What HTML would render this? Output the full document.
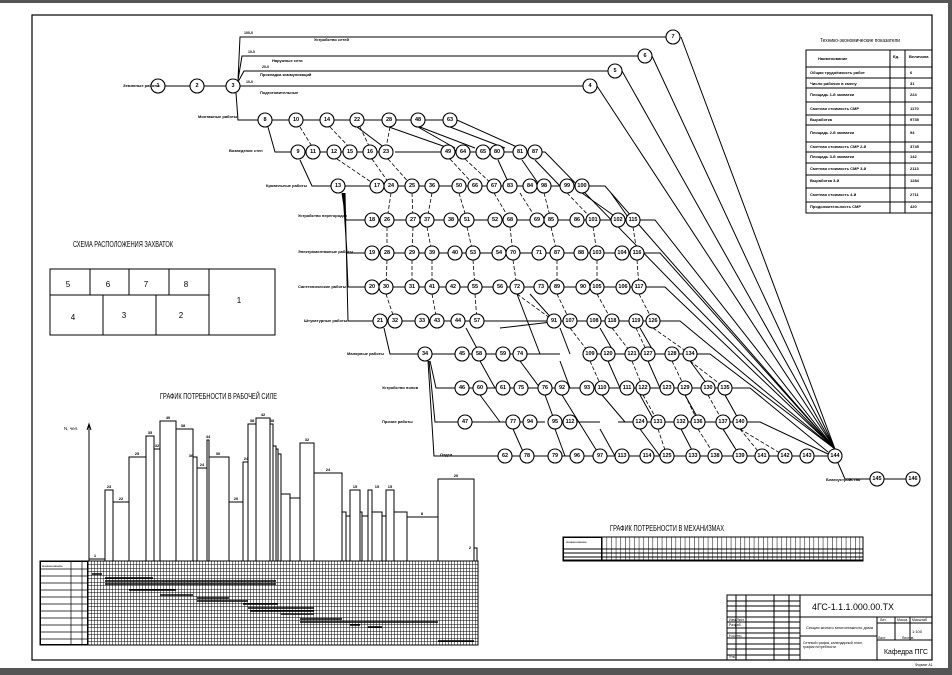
<!DOCTYPE html>
<html><head><meta charset="utf-8"><style>
html,body{margin:0;padding:0;background:#fff}
body{width:952px;height:675px;overflow:hidden;position:relative;font-family:"Liberation Sans","DejaVu Sans",sans-serif}
svg{position:absolute;left:0;top:0}
</style></head><body>
<svg width="952" height="675" viewBox="0 0 952 675" xmlns="http://www.w3.org/2000/svg" font-family="Liberation Sans, DejaVu Sans, sans-serif">
<defs>
<pattern id="g" x="88" y="561" width="3" height="3.5" patternUnits="userSpaceOnUse">
<path d="M0,0V3.5M0,0H3" stroke="#000" stroke-width="1" fill="none"/>
</pattern>
<pattern id="m" x="602" y="537" width="4.6" height="24" patternUnits="userSpaceOnUse">
<path d="M0,0V24" stroke="#000" stroke-width="1" fill="none"/>
</pattern>
</defs>
<rect x="0" y="0" width="952" height="3" fill="#555"/>
<rect x="948" y="0" width="4" height="675" fill="#555"/>
<rect x="0" y="668" width="952" height="7" fill="#555"/>
<rect x="32" y="15" width="900" height="645" fill="none" stroke="#000" stroke-width="1.2"/>

<text x="73" y="247" font-size="8" textLength="100" lengthAdjust="spacingAndGlyphs">СХЕМА РАСПОЛОЖЕНИЯ ЗАХВАТОК</text>
<g fill="none" stroke="#000" stroke-width="1">
<rect x="50" y="269" width="225" height="66"/>
<path d="M50,295H209M90,269V295M129,269V295M169,269V295M209,269V335M103,295V335M156,295V335"/>
</g>
<g font-size="8" text-anchor="middle">
<text x="68" y="287">5</text><text x="108" y="287">6</text><text x="146" y="287">7</text><text x="186" y="287">8</text>
<text x="73" y="320">4</text><text x="124" y="318">3</text><text x="181" y="318">2</text><text x="239" y="303">1</text>
</g>

<text x="820" y="42" font-size="5" textLength="80" lengthAdjust="spacingAndGlyphs">Технико-экономические показатели</text>
<g fill="none" stroke="#000" stroke-width="1">
<rect x="806" y="50" width="126" height="163"/>
<path d="M890,50V213M905,50V213M806,67H932M806,78H932M806,88H932M806,102H932M806,115H932M806,125H932M806,142H932M806,152H932M806,163H932M806,175H932M806,188H932M806,202H932"/>
</g>
<g font-size="4" font-weight="bold">
<text x="818" y="60">Наименование</text><text x="893" y="58">Ед.</text><text x="909" y="58">Величина</text>
<text x="810" y="74">Общая трудоёмкость работ</text><text x="810" y="85">Число рабочих в смену</text>
<text x="810" y="96">Площадь 1-й захватки</text><text x="810" y="110">Сметная стоимость СМР</text>
<text x="810" y="121">Выработка</text><text x="810" y="134">Площадь 2-й захватки</text>
<text x="810" y="148">Сметная стоимость СМР 2-й</text><text x="810" y="158">Площадь 3-й захватки</text>
<text x="810" y="170">Сметная стоимость СМР 3-й</text><text x="810" y="182">Выработка 3-й</text>
<text x="810" y="196">Сметная стоимость 4-й</text><text x="810" y="208">Продолжительность СМР</text>
<text x="910" y="74">6</text><text x="910" y="85">31</text><text x="910" y="96">224</text><text x="910" y="110">1170</text><text x="910" y="121">9735</text><text x="910" y="134">94</text><text x="910" y="148">3745</text><text x="910" y="158">142</text><text x="910" y="170">2113</text><text x="910" y="182">1284</text><text x="910" y="196">2711</text><text x="910" y="208">420</text>
</g>

<g fill="none" stroke="#000" stroke-width="1">
<path d="M165,86H190M204,86H226"/>
<path d="M238,80L240,37H666M238,80L242,56H638M238,82L244,71H608M240,86H583"/>
<path d="M236,93L238,120H258"/>
<path d="M681,37L835,449M652,56L835,449M622,71L835,449M597,86L835,449"/>
<path d="M268,127L275,152H291M300,160L312,186H331"/>
<path d="M342,193L346,220H365M343,193L347,253H365M344,193L348,287H365M345,193L348,321H373M384,328L390,354H418M430,361L436,388H455M429,361L435,422H458M428,361L434,456H498"/>
<path d="M272,120H457L528,152"/>
<path d="M305,152H393M395,152L441,152M470,152H545L835,449"/>
<path d="M345,186H605L835,449"/>
<path d="M379,220H655L835,449"/>
<path d="M379,253H660L835,449"/>
<path d="M379,287H665L835,449"/>
<path d="M387,321H680L835,449"/>
<path d="M432,354H500L520,354H545L560,354M583,354H710L835,449"/>
<path d="M469,388H750L828,452"/>
<path d="M472,422H520L545,422M562,422H600M618,422H760L828,454"/>
<path d="M512,456H828"/>
<path d="M838,463L845,479H870M884,479H906"/>
<path d="M389,127L460,152M420,127L475,148M450,127L505,148M418,127L455,148M357,127L385,148"/>
<path d="M498,160L510,186M522,160L540,186M535,160L560,186"/>
<path d="M582,193L620,220M611,193L630,220"/>
<path d="M500,328L560,321M530,294L554,321M517,294L540,354M466,328L480,354M560,328L570,354M600,328L615,354M640,328L655,354"/>
<path d="M480,361L495,388M520,361L540,388M560,361L570,388M608,361L620,388M648,361L660,388M690,361L710,388"/>
<path d="M480,395L500,422M545,395L555,422M562,395L600,456M602,395L625,422M640,395L655,422M685,395L700,422M725,395L740,422"/>
<path d="M513,429L525,456M555,429L565,456M600,429L615,456M640,429L660,456M681,429L695,456M723,429L740,456"/>
</g>
<g fill="none" stroke="#000" stroke-width="0.8" stroke-dasharray="4,2">
<path d="M300,127L313,148M330,127L350,148M360,127L370,148M390,127L386,148"/>
<path d="M337,159L377,186M372,159L391,186M388,159L412,186M450,159L475,186M465,159L494,186"/>
<path d="M391,193L387,220M412,193L413,220M432,193L427,220M459,193L467,220M494,193L510,220M520,193L537,220M544,193L551,220M567,193L593,220"/>
<path d="M387,227V253M413,227L412,253M427,227L432,253M467,227L473,253M510,227L513,253M551,227L557,253M593,227L597,253M633,227L637,253"/>
<path d="M387,260L386,287M412,260V287M432,260V287M473,260L475,287M513,260L517,287M557,260V287M597,260V287M637,260L639,287"/>
<path d="M386,294L395,321M432,294L437,321M475,294L477,321M517,294L554,321M557,294L570,321M597,294L612,321M639,294L653,321"/>
<path d="M570,328L590,354M612,328L632,354M636,328L648,354M653,328L690,354"/>
<path d="M590,361L602,388M632,361L643,388M672,361L685,388M690,361L725,388"/>
<path d="M643,395L658,422M685,395L698,422M708,395L723,422M725,395L740,422"/>
<path d="M658,429L667,456M698,429L715,456M740,429L762,456M723,429L740,456M740,429L785,456"/>
</g>

<g fill="#fff" stroke="#000" stroke-width="1.1">
<circle cx="158" cy="86" r="7"/><circle cx="197" cy="86" r="7"/><circle cx="233" cy="86" r="7"/>
<circle cx="673" cy="37" r="7"/><circle cx="645" cy="56" r="7"/><circle cx="615" cy="71" r="7"/><circle cx="590" cy="86" r="7"/>
<circle cx="265" cy="120" r="7"/><circle cx="296" cy="120" r="7"/><circle cx="327" cy="120" r="7"/><circle cx="357" cy="120" r="7"/><circle cx="389" cy="120" r="7"/><circle cx="418" cy="120" r="7"/><circle cx="450" cy="120" r="7"/>
<circle cx="298" cy="152" r="7"/><circle cx="313" cy="152" r="7"/><circle cx="334" cy="152" r="7"/><circle cx="350" cy="152" r="7"/><circle cx="370" cy="152" r="7"/><circle cx="386" cy="152" r="7"/><circle cx="448" cy="152" r="7"/><circle cx="463" cy="152" r="7"/><circle cx="483" cy="152" r="7"/><circle cx="497" cy="152" r="7"/><circle cx="520" cy="152" r="7"/><circle cx="535" cy="152" r="7"/>
<circle cx="338" cy="186" r="7"/><circle cx="377" cy="186" r="7"/><circle cx="391" cy="186" r="7"/><circle cx="412" cy="186" r="7"/><circle cx="432" cy="186" r="7"/><circle cx="459" cy="186" r="7"/><circle cx="475" cy="186" r="7"/><circle cx="494" cy="186" r="7"/><circle cx="510" cy="186" r="7"/><circle cx="530" cy="186" r="7"/><circle cx="544" cy="186" r="7"/><circle cx="567" cy="186" r="7"/><circle cx="582" cy="186" r="7"/>
<circle cx="372" cy="220" r="7"/><circle cx="387" cy="220" r="7"/><circle cx="413" cy="220" r="7"/><circle cx="427" cy="220" r="7"/><circle cx="451" cy="220" r="7"/><circle cx="467" cy="220" r="7"/><circle cx="495" cy="220" r="7"/><circle cx="510" cy="220" r="7"/><circle cx="537" cy="220" r="7"/><circle cx="551" cy="220" r="7"/><circle cx="577" cy="220" r="7"/><circle cx="593" cy="220" r="7"/><circle cx="618" cy="220" r="7"/><circle cx="633" cy="220" r="7"/>
<circle cx="372" cy="253" r="7"/><circle cx="387" cy="253" r="7"/><circle cx="412" cy="253" r="7"/><circle cx="432" cy="253" r="7"/><circle cx="455" cy="253" r="7"/><circle cx="473" cy="253" r="7"/><circle cx="499" cy="253" r="7"/><circle cx="513" cy="253" r="7"/><circle cx="539" cy="253" r="7"/><circle cx="557" cy="253" r="7"/><circle cx="581" cy="253" r="7"/><circle cx="597" cy="253" r="7"/><circle cx="622" cy="253" r="7"/><circle cx="637" cy="253" r="7"/>
<circle cx="372" cy="287" r="7"/><circle cx="386" cy="287" r="7"/><circle cx="412" cy="287" r="7"/><circle cx="432" cy="287" r="7"/><circle cx="453" cy="287" r="7"/><circle cx="475" cy="287" r="7"/><circle cx="500" cy="287" r="7"/><circle cx="517" cy="287" r="7"/><circle cx="541" cy="287" r="7"/><circle cx="557" cy="287" r="7"/><circle cx="583" cy="287" r="7"/><circle cx="597" cy="287" r="7"/><circle cx="623" cy="287" r="7"/><circle cx="639" cy="287" r="7"/>
<circle cx="380" cy="321" r="7"/><circle cx="395" cy="321" r="7"/><circle cx="422" cy="321" r="7"/><circle cx="437" cy="321" r="7"/><circle cx="458" cy="321" r="7"/><circle cx="477" cy="321" r="7"/><circle cx="554" cy="321" r="7"/><circle cx="570" cy="321" r="7"/><circle cx="594" cy="321" r="7"/><circle cx="612" cy="321" r="7"/><circle cx="636" cy="321" r="7"/><circle cx="653" cy="321" r="7"/>
<circle cx="425" cy="354" r="7"/><circle cx="462" cy="354" r="7"/><circle cx="479" cy="354" r="7"/><circle cx="503" cy="354" r="7"/><circle cx="520" cy="354" r="7"/><circle cx="590" cy="354" r="7"/><circle cx="608" cy="354" r="7"/><circle cx="632" cy="354" r="7"/><circle cx="648" cy="354" r="7"/><circle cx="672" cy="354" r="7"/><circle cx="690" cy="354" r="7"/>
<circle cx="462" cy="388" r="7"/><circle cx="480" cy="388" r="7"/><circle cx="503" cy="388" r="7"/><circle cx="521" cy="388" r="7"/><circle cx="545" cy="388" r="7"/><circle cx="562" cy="388" r="7"/><circle cx="587" cy="388" r="7"/><circle cx="602" cy="388" r="7"/><circle cx="627" cy="388" r="7"/><circle cx="643" cy="388" r="7"/><circle cx="667" cy="388" r="7"/><circle cx="685" cy="388" r="7"/><circle cx="708" cy="388" r="7"/><circle cx="725" cy="388" r="7"/>
<circle cx="465" cy="422" r="7"/><circle cx="513" cy="422" r="7"/><circle cx="530" cy="422" r="7"/><circle cx="555" cy="422" r="7"/><circle cx="570" cy="422" r="7"/><circle cx="640" cy="422" r="7"/><circle cx="658" cy="422" r="7"/><circle cx="681" cy="422" r="7"/><circle cx="698" cy="422" r="7"/><circle cx="723" cy="422" r="7"/><circle cx="740" cy="422" r="7"/>
<circle cx="505" cy="456" r="7"/><circle cx="527" cy="456" r="7"/><circle cx="555" cy="456" r="7"/><circle cx="577" cy="456" r="7"/><circle cx="600" cy="456" r="7"/><circle cx="622" cy="456" r="7"/><circle cx="647" cy="456" r="7"/><circle cx="667" cy="456" r="7"/><circle cx="693" cy="456" r="7"/><circle cx="715" cy="456" r="7"/><circle cx="740" cy="456" r="7"/><circle cx="762" cy="456" r="7"/><circle cx="785" cy="456" r="7"/><circle cx="807" cy="456" r="7"/><circle cx="835" cy="456" r="7"/>
<circle cx="877" cy="479" r="7"/><circle cx="913" cy="479" r="7"/>
</g>
<g font-size="5.5" font-weight="bold" text-anchor="middle" dominant-baseline="central">
<text x="158" y="86">1</text><text x="197" y="86">2</text><text x="233" y="86">3</text>
<text x="673" y="37">7</text><text x="645" y="56">6</text><text x="615" y="71">5</text><text x="590" y="86">4</text>
<text x="265" y="120">8</text><text x="296" y="120">10</text><text x="327" y="120">14</text><text x="357" y="120">22</text><text x="389" y="120">28</text><text x="418" y="120">48</text><text x="450" y="120">63</text>
<text x="298" y="152">9</text><text x="313" y="152">11</text><text x="334" y="152">12</text><text x="350" y="152">15</text><text x="370" y="152">16</text><text x="386" y="152">23</text><text x="448" y="152">49</text><text x="463" y="152">64</text><text x="483" y="152">65</text><text x="497" y="152">80</text><text x="520" y="152">81</text><text x="535" y="152">87</text>
<text x="338" y="186">13</text><text x="377" y="186">17</text><text x="391" y="186">24</text><text x="412" y="186">25</text><text x="432" y="186">36</text><text x="459" y="186">50</text><text x="475" y="186">66</text><text x="494" y="186">67</text><text x="510" y="186">83</text><text x="530" y="186">84</text><text x="544" y="186">98</text><text x="567" y="186">99</text><text x="582" y="186">100</text>
<text x="372" y="220">18</text><text x="387" y="220">26</text><text x="413" y="220">27</text><text x="427" y="220">37</text><text x="451" y="220">38</text><text x="467" y="220">51</text><text x="495" y="220">52</text><text x="510" y="220">68</text><text x="537" y="220">69</text><text x="551" y="220">85</text><text x="577" y="220">86</text><text x="593" y="220">101</text><text x="618" y="220">102</text><text x="633" y="220">115</text>
<text x="372" y="253">19</text><text x="387" y="253">28</text><text x="412" y="253">29</text><text x="432" y="253">39</text><text x="455" y="253">40</text><text x="473" y="253">53</text><text x="499" y="253">54</text><text x="513" y="253">70</text><text x="539" y="253">71</text><text x="557" y="253">87</text><text x="581" y="253">88</text><text x="597" y="253">103</text><text x="622" y="253">104</text><text x="637" y="253">116</text>
<text x="372" y="287">20</text><text x="386" y="287">30</text><text x="412" y="287">31</text><text x="432" y="287">41</text><text x="453" y="287">42</text><text x="475" y="287">55</text><text x="500" y="287">56</text><text x="517" y="287">72</text><text x="541" y="287">73</text><text x="557" y="287">89</text><text x="583" y="287">90</text><text x="597" y="287">105</text><text x="623" y="287">106</text><text x="639" y="287">117</text>
<text x="380" y="321">21</text><text x="395" y="321">32</text><text x="422" y="321">33</text><text x="437" y="321">43</text><text x="458" y="321">44</text><text x="477" y="321">57</text><text x="554" y="321">91</text><text x="570" y="321">107</text><text x="594" y="321">108</text><text x="612" y="321">118</text><text x="636" y="321">119</text><text x="653" y="321">126</text>
<text x="425" y="354">34</text><text x="462" y="354">45</text><text x="479" y="354">58</text><text x="503" y="354">59</text><text x="520" y="354">74</text><text x="590" y="354">109</text><text x="608" y="354">120</text><text x="632" y="354">121</text><text x="648" y="354">127</text><text x="672" y="354">128</text><text x="690" y="354">134</text>
<text x="462" y="388">46</text><text x="480" y="388">60</text><text x="503" y="388">61</text><text x="521" y="388">75</text><text x="545" y="388">76</text><text x="562" y="388">92</text><text x="587" y="388">93</text><text x="602" y="388">110</text><text x="627" y="388">111</text><text x="643" y="388">122</text><text x="667" y="388">123</text><text x="685" y="388">129</text><text x="708" y="388">130</text><text x="725" y="388">135</text>
<text x="465" y="422">47</text><text x="513" y="422">77</text><text x="530" y="422">94</text><text x="555" y="422">95</text><text x="570" y="422">112</text><text x="640" y="422">124</text><text x="658" y="422">131</text><text x="681" y="422">132</text><text x="698" y="422">136</text><text x="723" y="422">137</text><text x="740" y="422">140</text>
<text x="505" y="456">62</text><text x="527" y="456">78</text><text x="555" y="456">79</text><text x="577" y="456">96</text><text x="600" y="456">97</text><text x="622" y="456">113</text><text x="647" y="456">114</text><text x="667" y="456">125</text><text x="693" y="456">133</text><text x="715" y="456">138</text><text x="740" y="456">139</text><text x="762" y="456">141</text><text x="785" y="456">142</text><text x="807" y="456">143</text><text x="835" y="456">144</text>
<text x="877" y="479">145</text><text x="913" y="479">146</text>
</g>
<g font-size="4" font-weight="bold">
<text x="123" y="87">Земляные работы</text>
<text x="198" y="118">Монтажные работы</text>
<text x="229" y="152">Возведение стен</text>
<text x="266" y="187">Кровельные работы</text>
<text x="298" y="217">Устройство перегородок</text>
<text x="298" y="253">Электромонтажные работы</text>
<text x="298" y="288">Сантехнические работы</text>
<text x="304" y="322">Штукатурные работы</text>
<text x="347" y="355">Малярные работы</text>
<text x="382" y="389">Устройство полов</text>
<text x="382" y="423">Прочие работы</text>
<text x="440" y="456">Отдел.</text>
<text x="826" y="481">Благоустройство</text>
<text x="314" y="41">Устройство сетей</text><text x="272" y="62">Наружные сети</text><text x="260" y="76">Прокладка коммуникаций</text><text x="260" y="94">Подготовительные</text>
<text x="244" y="34" font-size="3.5">100-0</text><text x="248" y="53" font-size="3.5">10-0</text><text x="262" y="68" font-size="3.5">20-0</text><text x="246" y="83" font-size="3.5">10-0</text>
</g>

<text x="160" y="399" font-size="8" textLength="117" lengthAdjust="spacingAndGlyphs">ГРАФИК  ПОТРЕБНОСТИ В РАБОЧЕЙ СИЛЕ</text>
<text x="64" y="430" font-size="4.5">N, чел.</text>
<path d="M89,561V424M87,430L89,424L91,430" stroke="#000" fill="none" stroke-width="1"/>
<path d="M89,559H105V490H113V502H129V457H146V436H154V449H160V421H176V429H193V457H197V468H207V440H209V457H229V502H243V462H248V424H256V418H270V424H273V446H276V449H278V454H281V494H290V498H300V443H314V473H342V512H346V516H350V490H360V512H362V516H368V490H372V512H382V516H386V490H394V512H407V517H438V479H474V548H477V561
M105,561V490M113,561V502M129,561V457M146,561V436M154,561V449M160,561V421M176,561V429M193,561V457M197,561V468M207,561V440M209,561V457M229,561V502M243,561V462M248,561V424M256,561V418M270,561V424M273,561V446M276,561V449M278,561V454M281,561V494M290,561V498M300,561V443M314,561V473M342,561V512M346,561V516M350,561V490M360,561V512M362,561V516M368,561V490M372,561V512M382,561V516M386,561V490M394,561V512M407,561V517M438,561V479M474,561V548" stroke="#000" fill="none" stroke-width="1"/>
<g font-size="4" text-anchor="middle" font-weight="bold">
<text x="95" y="557">1</text><text x="109" y="488">23</text><text x="121" y="500">22</text><text x="137" y="455">25</text><text x="150" y="434">35</text><text x="157" y="447">32</text><text x="168" y="419">40</text><text x="183" y="427">38</text><text x="191" y="457">36</text><text x="202" y="466">24</text><text x="208" y="438">44</text><text x="218" y="455">30</text><text x="236" y="500">20</text><text x="246" y="460">24</text><text x="252" y="422">38</text><text x="263" y="416">42</text><text x="272" y="422">38</text><text x="307" y="441">32</text><text x="328" y="471">24</text><text x="355" y="488">15</text><text x="377" y="488">15</text><text x="390" y="488">15</text><text x="422" y="515">8</text><text x="456" y="477">20</text><text x="470" y="549">2</text>
</g>
<rect x="40" y="561" width="438" height="84" fill="url(#g)" stroke="#000" stroke-width="1"/>
<rect x="40.5" y="561.5" width="47" height="83" fill="#fff" stroke="#000" stroke-width="1"/>
<path d="M71,561V645M82,561V645M40,569H88M40,576H88M40,583H88M40,590H88M40,597H88M40,604H88M40,611H88M40,618H88M40,625H88M40,632H88M40,639H88" stroke="#000" stroke-width="0.7" fill="none"/>
<g stroke="#000" stroke-width="1.6">
<path d="M92,574H102M105,578H153M105,581H276M105,584H276M129,590H176M160,595H193M197,598H229M197,601H248M243,604H278M248,608H314M250,611H314M281,614H314M300,619H342M300,622H438M350,625H360M368,627H382M438,641H474"/>
</g>
<text x="42" y="567" font-size="3">Наименование</text>

<text x="610" y="531" font-size="8" textLength="114" lengthAdjust="spacingAndGlyphs">ГРАФИК  ПОТРЕБНОСТИ В МЕХАНИЗМАХ</text>
<rect x="563" y="537" width="300" height="24" fill="url(#m)" stroke="#000" stroke-width="1"/>
<rect x="563.5" y="537.5" width="38" height="23" fill="#fff" stroke="#000" stroke-width="1"/>
<path d="M563,549H863M563,553H863M563,557H863M563,560H863" stroke="#000" stroke-width="1" fill="none"/>
<text x="566" y="543" font-size="3">Наименование</text>

<g fill="none" stroke="#000" stroke-width="1">
<rect x="727" y="595" width="205" height="65"/>
<path d="M800,595V660M800,617H932M877,617V660M877,623H932M895,617V640M910,617V640M877,640H932M800,636H877
M727,601H800M727,606H800M727,611H800M727,617H800M727,622H800M727,628H800M727,633H800M727,638H800M727,644H800M727,649H800M727,655H800
M736,595V660M746,595V660M774,595V660M789,595V660"/>
</g>
<text x="812" y="610" font-size="9" textLength="82" lengthAdjust="spacingAndGlyphs">4ГС-1.1.1.000.00.ТХ</text>
<text x="806" y="629" font-size="4">Секция жилого многоэтажного дома</text>
<text x="803" y="644" font-size="3.5">Сетевой график, календарный план,</text>
<text x="803" y="648" font-size="3.5">график потребности</text>
<text x="884" y="654" font-size="7" textLength="44" lengthAdjust="spacingAndGlyphs">Кафедра ПГС</text>
<text x="912" y="633" font-size="4">1:100</text>
<text x="880" y="621" font-size="3.5">Лит.</text><text x="897" y="621" font-size="3.5">Масса</text><text x="912" y="621" font-size="3.5">Масштаб</text>
<text x="878" y="639" font-size="3.5">Лист</text><text x="902" y="639" font-size="3.5">Листов</text>
<text x="729" y="621" font-size="3.5">Изм.Лист</text><text x="729" y="626" font-size="3.5">Разраб.</text><text x="729" y="637" font-size="3.5">Н.контр.</text><text x="729" y="658" font-size="3.5">Утв.</text>
<text x="915" y="666" font-size="3.5">Формат А1</text>
</svg>
</body></html>
